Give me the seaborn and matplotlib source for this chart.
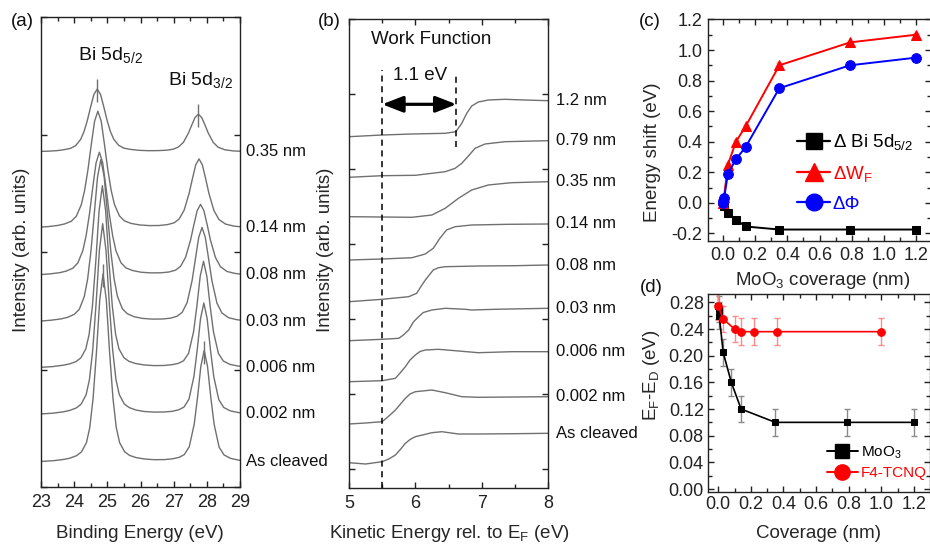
import matplotlib
matplotlib.use('Agg')
import matplotlib.pyplot as plt
import matplotlib.transforms as mtransforms
from matplotlib.lines import Line2D
from matplotlib.ticker import MultipleLocator, FormatStrFormatter, NullFormatter
from matplotlib.patches import ArrowStyle
import seaborn as sns

# ---------------- data: panel (a) Bi 5d core levels ----------------
xps_labels = ['As cleaved', '0.002 nm', '0.006 nm', '0.03 nm', '0.08 nm', '0.14 nm', '0.35 nm']
xps_peak_be = [24.87, 24.86, 24.85, 24.805, 24.76, 24.715, 24.695]
xps_offsets = [-1.9, -1.5, -1.2, -1.0, -0.8, -0.65, -0.5, -0.4, -0.3, -0.2, -0.1, 0.0,
               0.1, 0.2, 0.3, 0.4, 0.5, 0.65, 0.8, 1.0, 1.25, 1.55, 1.85, 2.1, 2.3, 2.45,
               2.6, 2.75, 2.85, 2.95, 3.05, 3.15, 3.25, 3.35, 3.5, 3.65, 3.85, 4.1, 4.35]
xps_as_cleaved = [25.5, 26.3, 27.5, 28.8, 31.3, 35.1, 44.3, 59.3, 88.5, 133.7, 186.6, 213.1,
                  186.7, 133.8, 88.6, 59.4, 44.4, 35.3, 31.6, 29.4, 28.0, 27.3, 27.4, 28.2, 29.7, 32.4,
                  40.2, 62.9, 89.6, 120.8, 136.5, 120.8, 89.5, 62.7, 39.9, 32.0, 28.6, 26.8, 25.9]
xps_0002 = [73.0, 73.8, 75.1, 76.5, 79.0, 82.8, 92.2, 107.3, 137.1, 182.9, 236.5, 263.3,
            236.5, 183.0, 137.2, 107.5, 92.4, 83.1, 79.4, 77.0, 75.5, 74.9, 75.0, 75.7, 77.3, 79.9,
            87.7, 110.4, 137.1, 168.4, 184.0, 168.3, 137.0, 110.2, 87.4, 79.5, 76.1, 74.4, 73.5]
xps_0006 = [119.6, 120.4, 121.7, 123.0, 125.3, 129.0, 138.0, 152.4, 180.8, 224.5, 275.7, 301.3,
            275.8, 224.6, 180.9, 152.6, 138.2, 129.3, 125.7, 123.5, 122.1, 121.4, 121.5, 122.3, 123.7, 126.3,
            133.7, 155.3, 180.9, 210.7, 225.7, 210.7, 180.8, 155.2, 133.5, 125.9, 122.6, 120.9, 120.1]
xps_003 = [165.7, 166.8, 168.1, 169.7, 172.7, 177.7, 190.4, 207.7, 235.5, 272.7, 310.1, 327.4,
           310.1, 272.8, 235.7, 207.9, 190.6, 178.1, 173.2, 170.3, 168.6, 167.9, 168.0, 168.8, 170.8, 174.6,
           184.3, 206.3, 227.9, 249.6, 259.6, 249.5, 227.8, 206.0, 183.9, 174.0, 169.3, 167.3, 166.3]
xps_008 = [212.1, 213.1, 214.3, 215.9, 218.8, 224.0, 236.2, 251.2, 272.8, 299.3, 324.1, 334.8,
           324.2, 299.4, 272.9, 251.3, 236.3, 224.3, 219.1, 216.5, 214.8, 214.1, 214.2, 215.0, 216.9, 220.8,
           229.8, 247.0, 262.3, 276.5, 282.6, 276.5, 262.3, 246.8, 229.5, 220.3, 215.5, 213.5, 212.6]
xps_014 = [259.5, 260.4, 261.6, 263.1, 265.8, 270.8, 282.3, 296.6, 317.1, 342.2, 365.7, 375.8,
           365.8, 342.3, 317.2, 296.7, 282.5, 271.1, 266.1, 263.6, 262.1, 261.4, 261.5, 262.4, 264.2, 268.0,
           276.8, 293.5, 308.2, 322.1, 328.1, 322.1, 308.2, 293.3, 276.4, 267.5, 262.9, 260.9, 260.0]
xps_035 = [335.4, 335.8, 336.4, 337.3, 338.7, 341.4, 347.6, 355.2, 366.3, 379.9, 392.6, 398.0,
           392.6, 379.9, 366.4, 355.3, 347.7, 341.6, 338.9, 337.6, 336.7, 336.3, 336.4, 336.8, 337.9, 340.0,
           344.7, 353.9, 361.9, 369.5, 372.8, 369.5, 361.9, 353.8, 344.5, 339.7, 337.2, 336.1, 335.7]
xps_curves = [xps_as_cleaved, xps_0002, xps_0006, xps_003, xps_008, xps_014, xps_035]

# ---------------- data: panel (b) secondary electron cut-off ----------------
wf_labels = ['As cleaved', '0.002 nm', '0.006 nm', '0.03 nm', '0.08 nm', '0.14 nm', '0.35 nm', '0.79 nm', '1.2 nm']
wf_x_as = [5.0, 5.25, 5.5, 5.6, 5.7, 5.78, 5.85, 5.92, 6.0, 6.25, 6.4, 6.65, 6.95, 7.5, 8.0]
wf_y_as = [25.3, 24.0, 26.3, 29.0, 33.0, 39.0, 44.7, 48.5, 51.3, 55.3, 56.3, 54.0, 54.0, 54.3, 54.7]
wf_x_0002 = [5.0, 5.25, 5.5, 5.59, 5.7, 5.85, 5.92, 6.0, 6.25, 6.45, 6.7, 6.95, 7.5, 8.0]
wf_y_0002 = [64.0, 65.0, 66.3, 71.3, 78.0, 89.7, 94.0, 96.3, 98.0, 95.3, 91.3, 90.7, 91.0, 91.3]
wf_x_0006 = [5.0, 5.5, 5.7, 5.77, 5.85, 5.92, 6.0, 6.07, 6.15, 6.35, 6.6, 6.95, 7.45, 8.0]
wf_y_0006 = [106.3, 107.3, 109.7, 115.0, 121.3, 128.0, 133.0, 136.5, 138.0, 138.7, 137.3, 135.3, 136.3, 136.3]
wf_x_003 = [5.0, 5.5, 5.75, 5.82, 5.9, 5.97, 6.05, 6.12, 6.25, 6.45, 6.75, 6.85, 7.2, 8.0]
wf_y_003 = [147.3, 148.7, 149.7, 153.0, 158.0, 166.0, 171.3, 175.5, 178.0, 179.7, 178.7, 178.0, 178.7, 179.7]
wf_x_008 = [5.0, 5.5, 5.9, 6.02, 6.08, 6.15, 6.27, 6.35, 6.45, 6.95, 7.5, 8.0]
wf_y_008 = [186.3, 188.7, 191.3, 194.7, 201.0, 208.0, 218.0, 220.3, 221.3, 222.0, 222.3, 223.0]
wf_x_014 = [5.0, 5.5, 5.95, 6.15, 6.27, 6.37, 6.47, 6.6, 6.85, 7.4, 8.0]
wf_y_014 = [228.0, 229.0, 230.3, 234.0, 239.7, 249.7, 258.0, 261.3, 263.0, 263.7, 264.0]
wf_x_035 = [5.0, 5.5, 5.95, 6.25, 6.45, 6.65, 6.85, 7.1, 7.45, 8.0]
wf_y_035 = [271.3, 271.0, 270.7, 273.0, 279.7, 289.7, 298.0, 303.0, 305.3, 306.3]
wf_x_079 = [5.0, 5.5, 6.0, 6.45, 6.6, 6.7, 6.8, 6.9, 7.05, 7.35, 8.0]
wf_y_079 = [310.7, 312.3, 312.7, 316.3, 319.7, 324.7, 332.0, 339.7, 344.0, 346.3, 347.3]
wf_x_12 = [5.0, 5.5, 5.95, 6.45, 6.61, 6.70, 6.775, 6.85, 6.95, 7.1, 7.35, 7.65, 8.0]
wf_y_12 = [351.3, 353.0, 354.0, 354.7, 356.3, 364.7, 374.7, 382.0, 386.0, 388.0, 388.7, 388.0, 387.3]
wf_x_curves = [wf_x_as, wf_x_0002, wf_x_0006, wf_x_003, wf_x_008, wf_x_014, wf_x_035, wf_x_079, wf_x_12]
wf_y_curves = [wf_y_as, wf_y_0002, wf_y_0006, wf_y_003, wf_y_008, wf_y_014, wf_y_035, wf_y_079, wf_y_12]
wf_cutoff_clean = 5.5
wf_cutoff_covered = 6.62

# ---------------- data: panel (c) energy shifts ----------------
cov_c = [0.0, 0.002, 0.006, 0.03, 0.08, 0.14, 0.35, 0.79, 1.2]
bi_shift = [0.0, -0.01, -0.02, -0.065, -0.11, -0.155, -0.175, -0.175, -0.175]
wf_shift = [0.0, 0.02, 0.04, 0.25, 0.40, 0.50, 0.90, 1.05, 1.10]
phi_shift = [0.0, 0.01, 0.03, 0.19, 0.285, 0.365, 0.75, 0.90, 0.95]

# ---------------- data: panel (d) E_F - E_D ----------------
cov_moo3 = [0.0, 0.002, 0.006, 0.03, 0.08, 0.14, 0.35, 0.79, 1.2]
efed_moo3 = [0.275, 0.27, 0.26, 0.205, 0.16, 0.12, 0.10, 0.10, 0.10]
cov_f4 = [0.0, 0.03, 0.10, 0.14, 0.22, 0.36, 1.0]
efed_f4 = [0.274, 0.255, 0.24, 0.236, 0.236, 0.236, 0.236]
efed_err = 0.02

# ---------------- style ----------------
sns.set_theme(style='ticks')
plt.rcParams['font.family'] = ['Liberation Sans', 'DejaVu Sans']
plt.rcParams.update({
    'mathtext.fontset': 'custom',
    'mathtext.rm': 'Liberation Sans',
    'mathtext.it': 'Liberation Sans:italic',
    'mathtext.bf': 'Liberation Sans:bold',
    'axes.unicode_minus': False,
    'xtick.direction': 'in', 'ytick.direction': 'in',
    'xtick.top': True, 'ytick.right': True,
    'xtick.major.size': 4.5, 'ytick.major.size': 4.5,
    'xtick.minor.size': 2.6, 'ytick.minor.size': 2.6,
    'xtick.major.width': 1.0, 'ytick.major.width': 1.0,
    'xtick.minor.width': 1.0, 'ytick.minor.width': 1.0,
    'axes.linewidth': 1.0,
    'axes.edgecolor': '#222222',
    'xtick.color': '#222222', 'ytick.color': '#222222',
    'text.color': '#111111',
    'xtick.labelsize': 13, 'ytick.labelsize': 13,
    'axes.labelsize': 13.5,
})

W, H = 930, 546
fig = plt.figure(figsize=(W / 100, H / 100), dpi=100)


def add_axes_px(l, t, r, b):
    return fig.add_axes([l / W, 1 - b / H, (r - l) / W, (b - t) / H])


axA = add_axes_px(41, 17, 240, 487)
axB = add_axes_px(349, 19, 548, 488)
axC = add_axes_px(708, 19, 931, 241)
axD = add_axes_px(708, 294, 929.5, 491.7)

gray = '#707070'

# ---------------- panel (a) ----------------
blendA = mtransforms.blended_transform_factory(axA.transAxes, axA.transData)
for lab, pk, vals in zip(xps_labels, xps_peak_be, xps_curves):
    xs = [pk + o for o in xps_offsets]
    sns.lineplot(x=xs, y=vals, ax=axA, color=gray, lw=1.0, sort=False, estimator=None)
    axA.text(1.03, vals[0], lab, transform=blendA, ha='left', va='center', fontsize=12, clip_on=False)
for idx in (0, len(xps_curves) - 1):
    pk = xps_peak_be[idx]
    vals = xps_curves[idx]
    top1 = max(vals[:20])
    top2 = max(vals[20:])
    axA.vlines([pk, pk + xps_offsets[30]], [top1 - 13, top2 - 13], [top1 + 10, top2 + 10], color=gray, lw=1.0)
axA.text(25.09, 432, 'Bi 5d$_{5/2}$', ha='center', va='center', fontsize=14)
axA.text(27.81, 407, 'Bi 5d$_{3/2}$', ha='center', va='center', fontsize=14)
axA.set_xlim(23, 29)
axA.set_ylim(0, 470)
axA.xaxis.set_major_locator(MultipleLocator(1))
axA.xaxis.set_minor_locator(MultipleLocator(0.5))
axA.set_yticks([0, 117.5, 235, 352.5, 470])
axA.yaxis.set_major_formatter(NullFormatter())
axA.tick_params(axis='x', pad=5)
axA.set_xlabel('Binding Energy (eV)')
axA.set_ylabel('Intensity (arb. units)')
axA.xaxis.set_label_coords(0.4975, -0.098)
axA.xaxis.label.set_va('center')
axA.yaxis.set_label_coords(-0.0955, 0.504)
axA.yaxis.label.set_va('center')

# ---------------- panel (b) ----------------
blendB = mtransforms.blended_transform_factory(axB.transAxes, axB.transData)
for lab, xs, ys in zip(wf_labels, wf_x_curves, wf_y_curves):
    sns.lineplot(x=xs, y=ys, ax=axB, color=gray, lw=1.0, sort=False, estimator=None)
    axB.text(1.04, ys[-1], lab, transform=blendB, ha='left', va='center', fontsize=12, clip_on=False)
axB.vlines(wf_cutoff_clean, 0, 418, colors='black', linestyles=(0, (4, 3)), lw=1.1)
axB.vlines(wf_cutoff_covered, 341, 413, colors='black', linestyles=(0, (4, 3)), lw=1.1)
axB.annotate('', xy=(wf_cutoff_clean, 383.7), xytext=(wf_cutoff_covered, 383.7),
             arrowprops=dict(arrowstyle=ArrowStyle('<|-|>', head_length=0.9, head_width=0.35),
                             lw=2.3, color='black', shrinkA=0, shrinkB=0, mutation_scale=14))
axB.text(6.07, 412, '%.1f eV' % (wf_cutoff_covered - wf_cutoff_clean - 0.02), ha='center', va='center', fontsize=13.5)
axB.text(6.236, 449, 'Work Function', ha='center', va='center', fontsize=13.5)
axB.set_xlim(5, 8)
axB.set_ylim(0, 469)
axB.xaxis.set_major_locator(MultipleLocator(1))
axB.xaxis.set_minor_locator(MultipleLocator(0.5))
axB.set_yticks([19, 94, 169, 244, 319, 394, 469])
axB.yaxis.set_major_formatter(NullFormatter())
axB.tick_params(axis='x', pad=5)
axB.set_xlabel('Kinetic Energy rel. to E$_\\mathrm{F}$ (eV)')
axB.set_ylabel('Intensity (arb. units)')
axB.xaxis.set_label_coords(0.5025, -0.096)
axB.xaxis.label.set_va('center')
axB.yaxis.set_label_coords(-0.1156, 0.507)
axB.yaxis.label.set_va('center')

# ---------------- panel (c) ----------------
axC.errorbar(cov_c, wf_shift, yerr=0.012, fmt='none', ecolor=(1, 0.3, 0.3, 0.45), elinewidth=1, capsize=2)
axC.errorbar(cov_c, phi_shift, yerr=0.012, fmt='none', ecolor=(0.3, 0.3, 1, 0.45), elinewidth=1, capsize=2)
sns.lineplot(x=cov_c, y=bi_shift, ax=axC, color='black', lw=1.4, marker='s', markersize=6,
             markeredgecolor='black', sort=False, estimator=None)
sns.lineplot(x=cov_c, y=wf_shift, ax=axC, color='red', lw=1.4, marker='^', markersize=7.5,
             markeredgecolor='red', sort=False, estimator=None)
sns.lineplot(x=cov_c, y=phi_shift, ax=axC, color='blue', lw=1.4, marker='o', markersize=7,
             markeredgecolor='blue', sort=False, estimator=None)
axC.set_xlim(-0.094, 1.294)
axC.set_ylim(-0.25, 1.203)
axC.xaxis.set_major_locator(MultipleLocator(0.2))
axC.xaxis.set_minor_locator(MultipleLocator(0.1))
axC.yaxis.set_major_locator(MultipleLocator(0.2))
axC.yaxis.set_minor_locator(MultipleLocator(0.1))
axC.xaxis.set_major_formatter(FormatStrFormatter('%.1f'))
axC.yaxis.set_major_formatter(FormatStrFormatter('%.1f'))
axC.tick_params(axis='x', pad=4.5)
axC.tick_params(axis='y', pad=4)
axC.set_xlabel('MoO$_3$ coverage (nm)')
axC.set_ylabel('Energy shift (eV)')
axC.xaxis.set_label_coords(0.516, -0.178)
axC.xaxis.label.set_va('center')
axC.yaxis.set_label_coords(-0.251, 0.401)
axC.yaxis.label.set_va('center')
hC = [Line2D([], [], color='black', marker='s', ms=11, lw=1.6),
      Line2D([], [], color='red', marker='^', ms=13, lw=1.6),
      Line2D([], [], color='blue', marker='o', ms=12, lw=1.6)]
legC = axC.legend(hC, ['\u0394 Bi 5d$_{5/2}$', '\u0394W$_\\mathrm{F}$', '\u0394\u03a6'],
                  loc='upper left', bbox_to_anchor=(0.40, 0.49), frameon=False, fontsize=13.5,
                  handlelength=1.75, handletextpad=0.15, labelspacing=0.62, borderpad=0, borderaxespad=0)
for t, c in zip(legC.get_texts(), ['black', 'red', 'blue']):
    t.set_color(c)

# ---------------- panel (d) ----------------
axD.errorbar(cov_moo3, efed_moo3, yerr=efed_err, fmt='none', ecolor='#8a8a8a', elinewidth=1, capsize=2)
axD.errorbar(cov_f4, efed_f4, yerr=efed_err, fmt='none', ecolor='#ff8c8c', elinewidth=1, capsize=2)
sns.lineplot(x=cov_moo3, y=efed_moo3, ax=axD, color='black', lw=1.2, marker='s', markersize=5,
             markeredgecolor='black', sort=False, estimator=None)
sns.lineplot(x=cov_f4, y=efed_f4, ax=axD, color='red', lw=1.2, marker='o', markersize=5.5,
             markeredgecolor='red', sort=False, estimator=None)
axD.set_xlim(-0.063, 1.296)
axD.set_ylim(-0.004, 0.2925)
axD.xaxis.set_major_locator(MultipleLocator(0.2))
axD.xaxis.set_minor_locator(MultipleLocator(0.1))
axD.yaxis.set_major_locator(MultipleLocator(0.04))
axD.yaxis.set_minor_locator(MultipleLocator(0.02))
axD.xaxis.set_major_formatter(FormatStrFormatter('%.1f'))
axD.yaxis.set_major_formatter(FormatStrFormatter('%.2f'))
axD.tick_params(axis='x', pad=3)
axD.tick_params(axis='y', pad=3)
axD.spines['right'].set_linestyle((0, (1, 1.5)))
axD.set_xlabel('Coverage (nm)')
axD.set_ylabel('E$_\\mathrm{F}$-E$_\\mathrm{D}$ (eV)')
axD.xaxis.set_label_coords(0.501, -0.209)
axD.xaxis.label.set_va('center')
axD.yaxis.set_label_coords(-0.257, 0.59)
axD.yaxis.label.set_va('center')
hD = [Line2D([], [], color='black', marker='s', ms=10, lw=1.4),
      Line2D([], [], color='red', marker='o', ms=11, lw=1.4)]
legD = axD.legend(hD, ['MoO$_3$', 'F4-TCNQ'], loc='upper left', bbox_to_anchor=(0.537, 0.24),
                  frameon=False, fontsize=11, handlelength=2.0, handletextpad=0.2, labelspacing=0.35,
                  borderpad=0, borderaxespad=0)
for t, c in zip(legD.get_texts(), ['black', 'red']):
    t.set_color(c)

# ---------------- panel letters ----------------
for lbl, (px, py) in zip(['(a)', '(b)', '(c)', '(d)'], [(22, 21), (329, 21), (650, 21), (651, 288)]):
    fig.text(px / W, 1 - py / H, lbl, ha='center', va='center', fontsize=13.5)

fig.savefig('out.png', dpi=100)
